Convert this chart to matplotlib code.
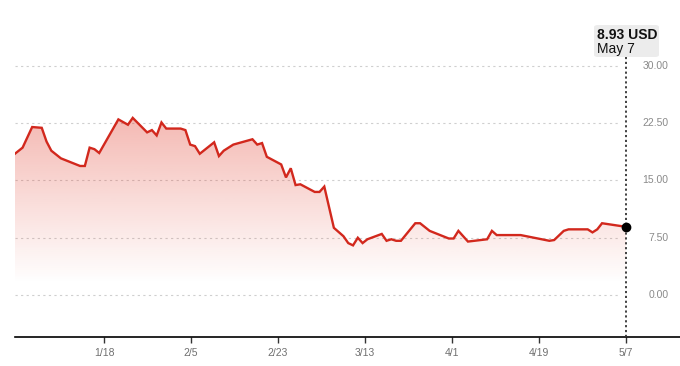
import matplotlib
matplotlib.use("Agg")
import matplotlib.pyplot as plt
import matplotlib.dates as mdates
import matplotlib.transforms as mtransforms
from matplotlib.patches import FancyBboxPatch
import numpy as np
import pandas as pd

plt.rcParams["font.family"] = ["Liberation Sans", "DejaVu Sans"]

# daily close, USD
DATES = ["2024-12-30", "2025-01-01", "2025-01-03", "2025-01-05", "2025-01-06",
         "2025-01-07", "2025-01-09", "2025-01-13", "2025-01-14", "2025-01-15",
         "2025-01-16", "2025-01-17", "2025-01-21", "2025-01-23", "2025-01-24",
         "2025-01-27", "2025-01-28", "2025-01-29", "2025-01-30", "2025-01-31",
         "2025-02-03", "2025-02-04", "2025-02-05", "2025-02-06", "2025-02-07",
         "2025-02-10", "2025-02-11", "2025-02-12", "2025-02-14", "2025-02-18",
         "2025-02-19", "2025-02-20", "2025-02-21", "2025-02-24", "2025-02-25",
         "2025-02-26", "2025-02-27", "2025-02-28", "2025-03-03", "2025-03-04",
         "2025-03-05", "2025-03-07", "2025-03-09", "2025-03-10", "2025-03-11",
         "2025-03-12", "2025-03-13", "2025-03-14", "2025-03-17", "2025-03-18",
         "2025-03-19", "2025-03-20", "2025-03-21", "2025-03-24", "2025-03-25",
         "2025-03-27", "2025-03-31", "2025-04-01", "2025-04-02", "2025-04-04",
         "2025-04-08", "2025-04-09", "2025-04-10", "2025-04-15", "2025-04-21",
         "2025-04-22", "2025-04-24", "2025-04-25", "2025-04-29", "2025-04-30",
         "2025-05-01", "2025-05-02", "2025-05-07"]
PRICES = [18.3, 19.3, 22.0, 21.9, 20.1,
          18.9, 17.9, 16.9, 16.9, 19.3,
          19.1, 18.6, 23.0, 22.3, 23.2,
          21.3, 21.6, 20.9, 22.6, 21.8,
          21.8, 21.6, 19.7, 19.5, 18.5,
          20.0, 18.2, 18.9, 19.7, 20.4,
          19.7, 19.9, 18.1, 17.1, 15.4,
          16.6, 14.4, 14.5, 13.5, 13.5,
          14.2, 8.8, 7.7, 6.8, 6.5,
          7.5, 6.8, 7.3, 8.0, 7.1,
          7.3, 7.1, 7.1, 9.4, 9.4,
          8.4, 7.4, 7.4, 8.4, 7.0,
          7.3, 8.4, 7.85, 7.85, 7.1,
          7.2, 8.4, 8.6, 8.6, 8.2,
          8.6, 9.4, 8.93]

# ticks sit evenly between the first and last label date
TICK_FIRST, TICK_LAST = "2025-01-18", "2025-05-07"
TICK_LABELS = ["1/18", "2/5", "2/23", "3/13", "4/1", "4/19", "5/7"]
Y_TICKS = [0.0, 7.5, 15.0, 22.5, 30.0]
LAST_VALUE = "8.93 USD"
LAST_DAY = "May 7"

RED = "#d2281d"

x = mdates.date2num(pd.to_datetime(DATES))
y = np.array(PRICES)
t0, t1 = mdates.date2num(pd.to_datetime([TICK_FIRST, TICK_LAST]))
xt = np.linspace(t0, t1, len(TICK_LABELS))

fig = plt.figure(figsize=(6.8, 3.66), dpi=100)
ax = fig.add_axes([15 / 680, 29 / 366, 665 / 680, 297 / 366])

px_day = 522 / (t1 - t0)
x_left = t0 - 89 / px_day
x_right = x_left + 665 / px_day
y_lo, y_hi = -5.5, 33.4
ax.set_xlim(x_left, x_right)
ax.set_ylim(y_lo, y_hi)

# gridlines (stop just short of the last date)
ax.hlines(Y_TICKS, x_left, x[-1] - 1.2, colors="#cfcfcf",
          linestyles=(0, (2, 3)), lw=0.8, zorder=1)

# gradient fill under the line
poly = ax.fill_between(x, y, y_lo, color="none", lw=0)
vals = np.linspace(y_hi, y_lo, 400)
alpha = 0.34 * np.clip((vals - 1.5) / (23.5 - 1.5), 0, 1)
grad = np.zeros((400, 1, 4))
grad[..., 0] = 224 / 255
grad[..., 1] = 48 / 255
grad[..., 2] = 30 / 255
grad[..., 3] = alpha[:, None]
im = ax.imshow(grad, extent=[x_left, x_right, y_lo, y_hi], aspect="auto",
               origin="upper", zorder=2)
im.set_clip_path(poly.get_paths()[0], transform=ax.transData)

ax.plot(x, y, color=RED, lw=1.7, zorder=3, solid_joinstyle="miter")

# marker on last point and vertical dotted line
ax.vlines(x[-1], y_lo, 31.4, colors="#333333", linestyles=(0, (1.2, 1.5)),
          lw=1.3, zorder=4)
ax.plot(x[-1], y[-1], "o", color="black", ms=6, zorder=5)

# right side y labels
trans = mtransforms.blended_transform_factory(ax.transAxes, ax.transData)
for v in Y_TICKS:
    ax.text(0.983, v, f"{v:.2f}", transform=trans, ha="right", va="center",
            fontsize=7.5, color="#8a8a8a")

ax.set_yticks([])
ax.set_xticks(xt)
ax.set_xticklabels(TICK_LABELS, fontsize=7.5, color="#707070")
ax.tick_params(axis="x", length=4, width=1, color="#333333", pad=4)
for s in ["top", "right", "left"]:
    ax.spines[s].set_visible(False)
ax.spines["bottom"].set_color("black")
ax.spines["bottom"].set_linewidth(1.2)
ax.patch.set_alpha(0)

# last value label box
box = FancyBboxPatch((594 / 680, (366 - 57) / 366), 65 / 680, 32 / 366,
                     boxstyle="round,pad=0,rounding_size=0.006",
                     transform=fig.transFigure, fc="#ececec", ec="none")
fig.patches.append(box)
fig.text(597 / 680, 1 - 28 / 366, LAST_VALUE, ha="left", va="top",
         fontsize=10, fontweight="bold", color="#111111")
fig.text(597 / 680, 1 - 42 / 366, LAST_DAY, ha="left", va="top",
         fontsize=10, color="#111111")

fig.savefig("out.png", dpi=100)
